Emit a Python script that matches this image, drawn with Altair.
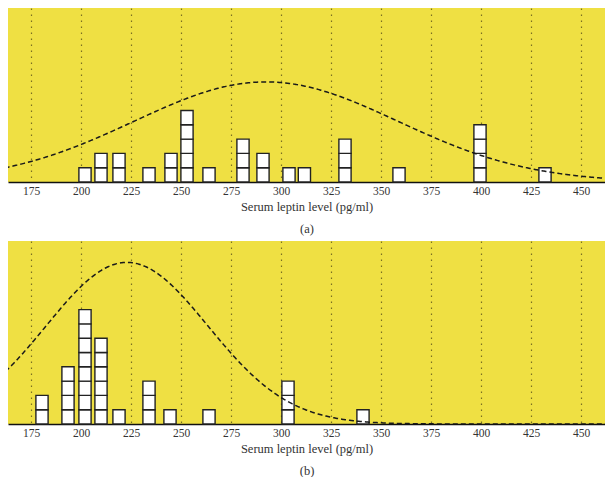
import altair as alt
import pandas as pd

# Panel (a): histogram of serum leptin levels (stacked unit boxes)
a_centers = [202, 210, 219, 234, 245, 253, 264, 281, 291, 304, 311.7, 332, 359, 399.5, 432]
a_counts = [1, 2, 2, 1, 2, 5, 1, 3, 2, 1, 1, 3, 1, 4, 1]
# fitted normal curve for (a): mean, sd, peak height (in counts)
a_curve = {"mu": 292.5, "sd": 66.0, "peak": 7.0}

# Panel (b)
b_centers = [180.5, 193.5, 202, 210, 219, 234, 244.5, 264, 303.5, 341]
b_counts = [2, 4, 8, 6, 1, 3, 1, 1, 3, 1]
b_curve = {"mu": 223.0, "sd": 40.5, "peak": 11.3}

ticks = [175, 200, 225, 250, 275, 300, 325, 350, 375, 400, 425, 450]
x_title = "Serum leptin level (pg/ml)"

X_DOMAIN = [163.5, 462]
BOX_HALF = 3.05
UNIT_PX = 14.3
FONT = "Liberation Serif"


def panel(centers, counts, curve, height, caption):
    rows = []
    for c, n in zip(centers, counts):
        for k in range(n):
            rows.append({"x0": c - BOX_HALF, "x1": c + BOX_HALF, "y0": k, "y1": k + 1})
    df = pd.DataFrame(rows)
    xscale = alt.Scale(domain=X_DOMAIN, nice=False, zero=False)
    yscale = alt.Scale(domain=[0, height / UNIT_PX], nice=False, zero=True)
    axis = alt.Axis(
        values=ticks, ticks=False, labelPadding=3, labelFontSize=11.5,
        labelFont=FONT, labelColor="#333", grid=True, gridColor="#7a6f22",
        gridDash=[1.5, 4.5], gridWidth=1.2, domainColor="#111", domainWidth=1.5,
        title=[x_title, caption], titleFont=FONT, titleFontSize=12.5,
        titleFontWeight="normal", titleColor="#333", titlePadding=4,
        titleLineHeight=22, labelFlush=False,
    )
    bars = alt.Chart(df).mark_rect(fill="white", stroke="#222", strokeWidth=1.4).encode(
        x=alt.X("x0:Q", scale=xscale, axis=axis),
        x2="x1:Q",
        y=alt.Y("y0:Q", scale=yscale, axis=None),
        y2="y1:Q",
    )
    line = alt.Chart(alt.sequence(150, 470, 0.5, as_="x")).transform_calculate(
        y=f"{curve['peak']}*exp(-pow(datum.x-{curve['mu']},2)/(2*{curve['sd']}*{curve['sd']}))"
    ).mark_line(color="#1a1a1a", strokeWidth=1.5, strokeDash=[5, 3], clip=True).encode(
        x=alt.X("x:Q", scale=xscale, axis=axis),
        y=alt.Y("y:Q", scale=yscale, axis=None),
    )
    return alt.layer(bars, line).properties(width=597, height=height)


top = panel(a_centers, a_counts, a_curve, 174, "(a)")
bottom = panel(b_centers, b_counts, b_curve, 183, "(b)")

chart = alt.vconcat(top, bottom, spacing=6).properties(
    padding=0, background="white"
).configure_view(fill="#EFE043", strokeWidth=0)

chart.save("out.html", embed_options={"renderer": "svg", "actions": False})
